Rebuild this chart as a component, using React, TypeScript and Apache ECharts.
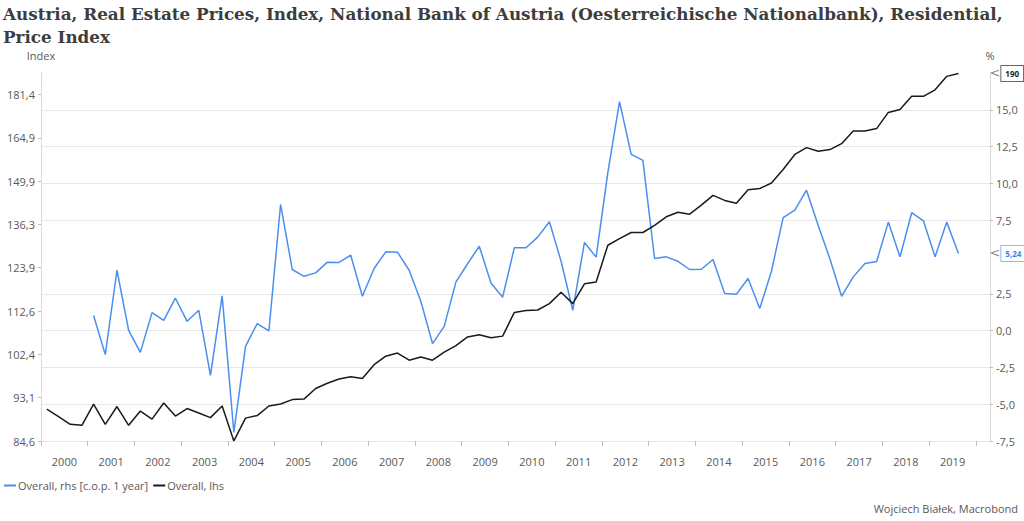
import { useEffect, useRef } from 'react';
import * as echarts from 'echarts';

const TITLE =
  'Austria, Real Estate Prices, Index, National Bank of Austria (Oesterreichische Nationalbank), Residential,\nPrice Index';
const SOURCE = 'Wojciech Białek, Macrobond';
const LEVEL_NAME = 'Overall, lhs';
const YOY_NAME = 'Overall, rhs [c.o.p. 1 year]';

// Quarterly observations, 2000 Q1 .. 2019 Q3
const FIRST_YEAR = 2000;
const quarters: string[] = Array.from({ length: 79 }, (_, i) => `${FIRST_YEAR + Math.floor(i / 4)}Q${(i % 4) + 1}`);
// decimal-year date of each quarter (middle of the quarter)
const quarterDates: number[] = quarters.map((q) => Number(q.slice(0, 4)) + (Number(q.slice(5)) - 1) * 0.25 + 0.125);

// Overall index, lhs (log scale)
const levels: number[] = [
  90.8, 89.3, 87.8, 87.6,
  91.8, 87.8, 91.3, 87.6,
  90.4, 88.8, 92.0, 89.4,
  90.9, 90.0, 89.1, 91.4,
  84.65, 89.0, 89.5, 91.4,
  91.8, 92.7, 92.8, 95.0,
  96.1, 97.0, 97.5, 97.1,
  100.1, 102.0, 102.7, 101.1,
  101.8, 101.1, 102.9, 104.4,
  106.4, 106.9, 106.2, 106.6,
  112.3, 112.8, 112.9, 114.5,
  117.4, 114.5, 119.6, 120.1,
  130.2, 132.1, 133.9, 133.9,
  136.0, 138.6, 140.0, 139.4,
  142.2, 145.3, 143.7, 142.8,
  147.1, 147.5, 149.3, 153.8,
  159.0, 161.4, 160.1, 160.7,
  162.8, 167.4, 167.4, 168.3,
  174.4, 175.5, 180.7, 180.7,
  183.3, 188.8, 190.0,
];

// Overall, % change over 1 year, rhs
const yoy: (number | null)[] = [
  null, null, null, null,
  1.02, -1.63, 4.1, 0.02,
  -1.48, 1.22, 0.7, 2.2,
  0.63, 1.38, -3.04, 2.36,
  -6.92, -1.07, 0.48, -0.02,
  8.57, 4.15, 3.69, 3.92,
  4.65, 4.63, 5.12, 2.33,
  4.22, 5.35, 5.33, 4.1,
  1.99, -0.88, 0.29, 3.29,
  4.54, 5.73, 3.24, 2.27,
  5.63, 5.63, 6.35, 7.39,
  4.71, 1.38, 5.99, 4.99,
  10.73, 15.56, 11.97, 11.56,
  4.9, 5.01, 4.71, 4.15,
  4.17, 4.83, 2.52, 2.47,
  3.54, 1.5, 4.03, 7.67,
  8.18, 9.54, 7.14, 4.88,
  2.33, 3.65, 4.56, 4.69,
  7.37, 5.01, 8.01, 7.46,
  5.01, 7.37, 5.24,
];

// Left (log) axis: ticks grow by a factor 1.1
const LEFT_BASE = 84.63;
const LEFT_FACTOR = 1.1;
const LEFT_TOP = 190.2;
const leftTickLabels = ['84,6', '93,1', '102,4', '112,6', '123,9', '136,3', '149,9', '164,9', '181,4'];

// Right axis (labels hidden where the end-value tags sit: 5,0 and 17,5)
const RIGHT_MIN = -7.5;
const RIGHT_MAX = 17.5;
const RIGHT_STEP = 2.5;
const rightLabelValues = [-7.5, -5, -2.5, 0, 2.5, 7.5, 10, 12.5, 15];

// X axis
const X_MIN = 2000;
const X_MAX = 2020.3;
const yearLabels = [
  '2000', '2001', '2002', '2003', '2004', '2005', '2006', '2007', '2008', '2009',
  '2010', '2011', '2012', '2013', '2014', '2015', '2016', '2017', '2018', '2019',
];

const toLog = (v: number) => Math.log(v / LEFT_BASE) / Math.log(LEFT_FACTOR);

const GRAY = '#595959';
const FONT = 'Open Sans';

export default function App() {
  const ref = useRef<HTMLDivElement>(null);

  useEffect(() => {
    const chart = echarts.init(ref.current!, null, { renderer: 'svg' });

    const yearStarts = yearLabels.map((y) => Number(y));
    const tickYears = [...yearStarts, yearStarts[yearStarts.length - 1] + 1];
    const labelYears = yearStarts.map((y) => y + 0.5);
    const leftTicks = leftTickLabels.map((_, i) => i);

    const levelData = quarterDates.map((d, i) => [d, toLog(levels[i]), levels[i]]);
    const yoyData = quarterDates.map((d, i) => [d, yoy[i]]);

    const tagRich = (border: string, color: string) => ({
      p: { color: '#8c8c8c', fontSize: 13, fontFamily: 'DejaVu Sans', padding: [0, 1, 1, 0] },
      b: {
        borderColor: border,
        borderWidth: 1,
        backgroundColor: '#fff',
        padding: [4, 4, 3, 4],
        fontSize: 8,
        fontWeight: 'bold',
        color,
        fontFamily: FONT,
      },
    });

    chart.setOption({
      animation: false,
      backgroundColor: '#ffffff',
      textStyle: { fontFamily: FONT },
      title: [
        {
          text: TITLE,
          left: 3,
          top: 2,
          padding: 0,
          textStyle: {
            fontFamily: 'DejaVu Serif',
            fontWeight: 'bold',
            fontSize: 16.8,
            lineHeight: 23,
            color: '#3d3d3d',
          },
        },
        {
          text: SOURCE,
          right: 6,
          bottom: 7,
          padding: 0,
          textStyle: { fontFamily: FONT, fontWeight: 'normal', fontSize: 11, color: GRAY },
        },
      ],
      legend: {
        left: 4,
        bottom: 30,
        padding: 0,
        itemGap: 5,
        itemWidth: 12,
        itemHeight: 2,
        icon: 'rect',
        textStyle: { fontSize: 11, color: GRAY, padding: [0, 0, 0, -3] },
        data: [YOY_NAME, LEVEL_NAME],
      },
      grid: { left: 41, right: 34, top: 73, bottom: 80 },
      xAxis: {
        type: 'value',
        min: X_MIN,
        max: X_MAX,
        offset: 7,
        axisLine: { show: false },
        splitLine: { show: false },
        axisTick: {
          show: true,
          length: 5,
          customValues: tickYears,
          lineStyle: { color: '#bfbfbf' },
        },
        axisLabel: {
          customValues: labelYears,
          margin: 8,
          fontSize: 11,
          color: GRAY,
          formatter: (v: number) => yearLabels[Math.floor(v) - X_MIN] ?? '',
        },
      },
      yAxis: [
        {
          type: 'value',
          position: 'left',
          min: 0,
          max: toLog(LEFT_TOP),
          name: 'Index',
          nameLocation: 'end',
          nameGap: 12,
          nameTextStyle: { fontSize: 11, color: GRAY },
          axisLine: { show: true, lineStyle: { color: '#d9d9d9' } },
          axisTick: { show: true, length: 3, customValues: leftTicks, lineStyle: { color: '#bfbfbf' } },
          splitLine: { show: false },
          axisLabel: {
            customValues: leftTicks,
            margin: 6,
            fontSize: 11,
            color: GRAY,
            formatter: (v: number) => leftTickLabels[Math.round(v)] ?? '',
          },
        },
        {
          type: 'value',
          position: 'right',
          min: RIGHT_MIN,
          max: RIGHT_MAX,
          interval: RIGHT_STEP,
          name: '%',
          nameLocation: 'end',
          nameGap: 12,
          nameTextStyle: { fontSize: 11, color: GRAY },
          axisLine: { show: true, lineStyle: { color: '#d9d9d9' } },
          axisTick: { show: true, length: 3, customValues: rightLabelValues, lineStyle: { color: '#bfbfbf' } },
          splitLine: { show: true, lineStyle: { color: '#e8e8e8', width: 1 } },
          axisLabel: {
            customValues: rightLabelValues,
            margin: 6,
            fontSize: 11,
            color: GRAY,
            formatter: (v: number) => v.toFixed(1).replace('.', ','),
          },
        },
      ],
      series: [
        {
          name: YOY_NAME,
          type: 'line',
          yAxisIndex: 1,
          data: yoyData,
          showSymbol: false,
          connectNulls: false,
          color: '#4a8ff0',
          lineStyle: { width: 1.5, color: '#4a8ff0' },
          endLabel: {
            show: true,
            distance: 0,
            offset: [31, 0],
            formatter: (p: any) => `{p|<}{b|${Number(p.value[1]).toFixed(2).replace('.', ',')}}`,
            rich: tagRich('#8fb8f5', '#3a84ee'),
          },
          z: 2,
        },
        {
          name: LEVEL_NAME,
          type: 'line',
          yAxisIndex: 0,
          data: levelData,
          showSymbol: false,
          color: '#1a1a1a',
          lineStyle: { width: 1.5, color: '#1a1a1a' },
          endLabel: {
            show: true,
            distance: 0,
            offset: [31, 0],
            formatter: (p: any) => `{p|<}{b|${Math.round(p.value[2])}}`,
            rich: tagRich('#666666', '#222222'),
          },
          z: 3,
        },
      ],
    });

    return () => chart.dispose();
  }, []);

  return <div ref={ref} style={{ position: 'absolute', left: 0, top: 0, width: 1024, height: 521 }} />;
}
